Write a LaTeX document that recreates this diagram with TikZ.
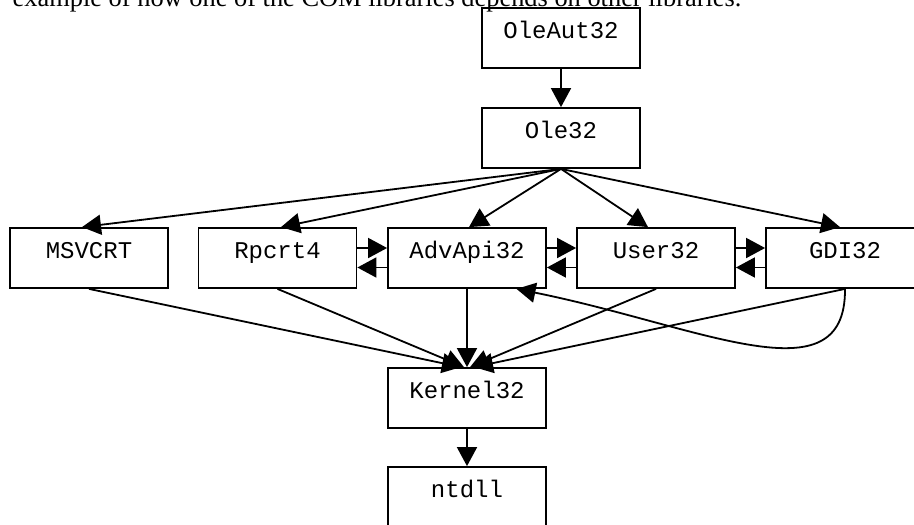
\documentclass[tikz,border=0pt]{standalone}
\usepackage{fontspec}
\setmainfont{Liberation Serif}
\setmonofont{Liberation Mono}
\usetikzlibrary{arrows.meta,calc}
\begin{document}
\begin{tikzpicture}[x=1pt,y=-1pt,
  libbox/.style={draw, line width=1.8pt, minimum width=158pt, minimum height=60pt,
    inner sep=0pt, text height=10pt, text depth=10pt,
    font=\fontsize{24}{24}\selectfont\ttfamily},
  dep/.style={line width=1.8pt, -{Triangle[length=19pt,width=20pt]}}]
\useasboundingbox (0,0) rectangle (914,525);

% caption line above the graph
\node[anchor=base west, inner sep=0pt, font=\fontsize{26.4}{30}\selectfont]
  (caption) at (12.5,6) {example of how one of the COM libraries depends on other libraries.};

% libraries
\node[libbox] (oleaut) at (561,38)    {OleAut32};
\node[libbox] (ole)    at (561,138)   {Ole32};
\node[libbox] (msvcrt) at (89,258)    {MSVCRT};
\node[libbox] (rpcrt)  at (277.5,258) {Rpcrt4};
\node[libbox] (advapi) at (467,258)   {AdvApi32};
\node[libbox] (user)   at (656,258)   {User32};
\node[libbox] (gdi)    at (845,258)   {GDI32};
\node[libbox] (kernel) at (467,398)   {Kernel32};
\node[libbox] (ntdll)  at (467,497)   {ntdll};

% OleAut32 -> Ole32
\draw[dep] (oleaut.south) -- (ole.north);

% Ole32 -> second row
\draw[dep] (ole.south) -- ($(msvcrt.north)+(-7,0)$);
\draw[dep] (ole.south) -- ($(rpcrt.north)+(3.5,0)$);
\draw[dep] (ole.south) -- ($(advapi.north)+(2,0)$);
\draw[dep] (ole.south) -- ($(user.north)+(-8,0)$);
\draw[dep] (ole.south) -- ($(gdi.north)+(-5,0)$);

% mutual dependencies within the second row
\draw[dep] ($(rpcrt.east)+(0,-10)$)  -- ($(advapi.west)+(0,-10)$);
\draw[dep] ($(advapi.west)+(0,9.5)$) -- ($(rpcrt.east)+(0,9.5)$);
\draw[dep] ($(advapi.east)+(0,-10)$) -- ($(user.west)+(0,-10)$);
\draw[dep] ($(user.west)+(0,9.5)$)   -- ($(advapi.east)+(0,9.5)$);
\draw[dep] ($(user.east)+(0,-10)$)   -- ($(gdi.west)+(0,-10)$);
\draw[dep] ($(gdi.west)+(0,9.5)$)    -- ($(user.east)+(0,9.5)$);

% second row -> Kernel32
\draw[dep] (msvcrt.south) -- ($(kernel.north)+(-6,0)$);
\draw[dep] (rpcrt.south)  -- ($(kernel.north)+(-3,0)$);
\draw[dep] (advapi.south) -- (kernel.north);
\draw[dep] (user.south)   -- ($(kernel.north)+(3,0)$);
\draw[dep] (gdi.south)    -- ($(kernel.north)+(7,0)$);

% GDI32 -> AdvApi32, looping underneath
\draw[dep] (gdi.south) .. controls ($(gdi.south)+(1,112)$) and ($(advapi.south)+(233,37)$)
  .. ($(advapi.south)+(49.5,0)$);

% Kernel32 -> ntdll
\draw[dep] (kernel.south) -- (ntdll.north);
\end{tikzpicture}
\end{document}
